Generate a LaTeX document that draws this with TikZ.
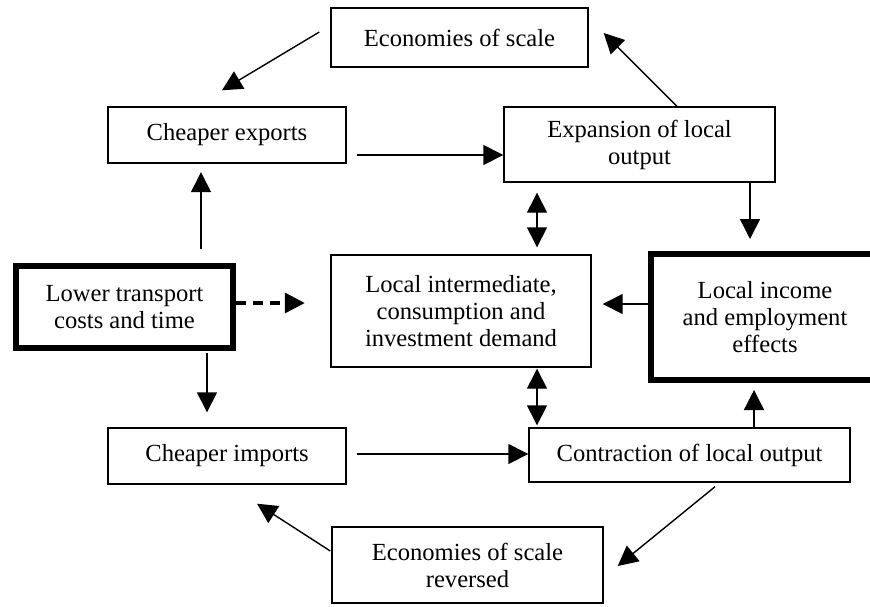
\documentclass[tikz,border=0pt]{standalone}
\usepackage{fontspec}
\setmainfont{Liberation Serif}
\usetikzlibrary{arrows.meta, calc}

\begin{document}
\begin{tikzpicture}[x=0.5pt, y=-0.5pt,
    box/.style={draw, line width=0.7pt, align=center, inner sep=2pt,
                font=\fontsize{12.3}{13.5}\selectfont},
    keybox/.style={box, line width=3pt},
    arr/.style={-{Triangle[length=10pt,width=10pt]}, line width=0.7pt},
    dbl/.style={{Triangle[length=10pt,width=10pt]}-{Triangle[length=10pt,width=10pt]}, line width=0.7pt}]
  \useasboundingbox (0,0) rectangle (870,606);
  % boxes
  \node[box, minimum width=128.5pt, minimum height=29.5pt] (econ) at (459.5,37.5) {Economies of scale};
  \node[box, minimum width=119pt, minimum height=28pt] (exports) at (227,135) {Cheaper exports};
  \node[box, minimum width=135.5pt, minimum height=37.5pt] (expand) at (639.5,144.5) {Expansion of local\\output};
  \node[keybox, minimum width=108.5pt, minimum height=41pt] (lower) at (124.5,307) {Lower transport\\costs and time};
  \node[box, minimum width=130pt, minimum height=56pt] (inter) at (461,311) {Local intermediate,\\consumption and\\investment demand};
  \node[keybox, minimum width=114pt, minimum height=63pt] (income) at (765,317) {Local income\\and employment\\effects};
  \node[box, minimum width=119pt, minimum height=28pt] (imports) at (227,456) {Cheaper imports};
  \node[box, minimum width=160.5pt, minimum height=27pt] (contract) at (689.5,455) {Contraction of local output};
  \node[box, minimum width=135.5pt, minimum height=38pt] (reversed) at (467.5,565) {Economies of scale\\reversed};
  % arrows
  \draw[arr] ($(econ.west)+(-11,-5.5)$) -- ($(exports.north)+(-5,-16)$);
  \draw[arr] ($(exports.east)+(10,20)$) -- ($(expand.west)+(0,10.5)$);
  \draw[arr] ($(expand.north)+(37.5,0)$) -- ($(econ.east)+(15,-4.5)$);
  \draw[arr] ($(expand.south)+(110.5,0)$) -- ($(income.north)+(-15,-12)$);
  \draw[dbl] ($(expand.south)+(-102.5,10)$) -- ($(inter.north)+(76,-7)$);
  \draw[arr] ($(lower.north)+(76.5,-14)$) -- ($(exports.south)+(-26,8.5)$);
  \draw[arr, line width=1.6pt, dash pattern=on 5pt off 3.5pt] ($(lower.east)+(0,-4)$) -- ($(inter.west)+(-25.5,-8)$);
  \draw[arr] ($(lower.south)+(82.5,2)$) -- ($(imports.north)+(-20,-15)$);
  \draw[arr] ($(income.west)+(0,-13)$) -- ($(inter.east)+(11,-7)$);
  \draw[arr] ($(imports.east)+(10,-2)$) -- ($(contract.west)+(0,-1)$);
  \draw[arr] ($(contract.north)+(64.5,0)$) -- ($(income.south)+(-11,7)$);
  \draw[dbl] ($(inter.south)+(76,1)$) -- ($(contract.north)+(-152.5,-2)$);
  \draw[arr] ($(contract.south)+(25.5,4)$) -- ($(reversed.east)+(14,1)$);
  \draw[arr] ($(reversed.west)+(-1,-14)$) -- ($(imports.south)+(30,19)$);
\end{tikzpicture}
\end{document}
